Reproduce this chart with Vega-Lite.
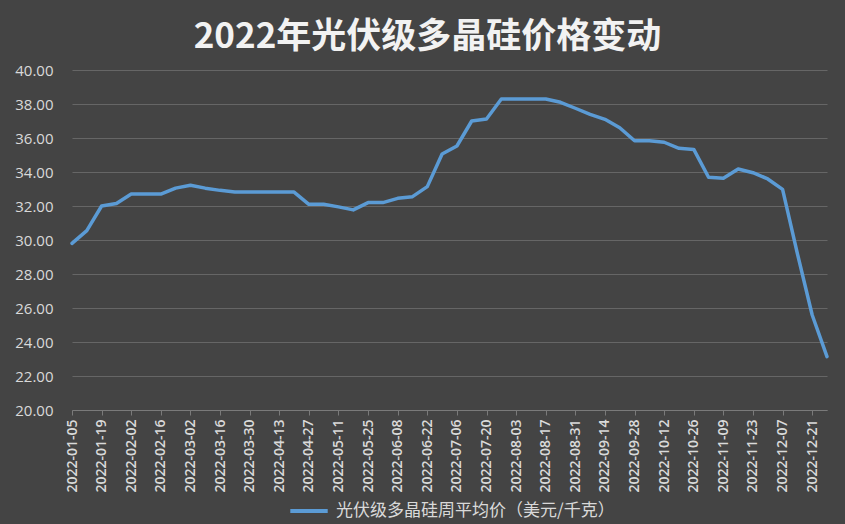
{
  "$schema": "https://vega.github.io/schema/vega-lite/v6.json",
  "width": 755,
  "height": 340,
  "autosize": {"type": "none"},
  "padding": {"left": 72, "top": 70, "right": 18, "bottom": 114},
  "background": "#444444",
  "config": {"view": {"stroke": null}},
  "title": {
    "text": "2022年光伏级多晶硅价格变动",
    "font": "Noto Sans CJK SC",
    "fontSize": 35,
    "fontWeight": "bold",
    "color": "#f2f2f2",
    "anchor": "middle",
    "offset": 8,
    "dx": -22
  },
  "data": {
    "values": [
      {"date": "2022-01-05", "price": 29.8},
      {"date": "2022-01-12", "price": 30.55},
      {"date": "2022-01-19", "price": 32.0},
      {"date": "2022-01-26", "price": 32.15},
      {"date": "2022-02-02", "price": 32.7},
      {"date": "2022-02-09", "price": 32.7},
      {"date": "2022-02-16", "price": 32.7},
      {"date": "2022-02-23", "price": 33.05},
      {"date": "2022-03-02", "price": 33.22},
      {"date": "2022-03-09", "price": 33.05},
      {"date": "2022-03-16", "price": 32.92},
      {"date": "2022-03-23", "price": 32.83},
      {"date": "2022-03-30", "price": 32.82},
      {"date": "2022-04-06", "price": 32.82},
      {"date": "2022-04-13", "price": 32.82},
      {"date": "2022-04-20", "price": 32.82},
      {"date": "2022-04-27", "price": 32.1},
      {"date": "2022-05-04", "price": 32.1},
      {"date": "2022-05-11", "price": 31.95},
      {"date": "2022-05-18", "price": 31.77},
      {"date": "2022-05-25", "price": 32.2},
      {"date": "2022-06-01", "price": 32.2},
      {"date": "2022-06-08", "price": 32.45},
      {"date": "2022-06-15", "price": 32.55},
      {"date": "2022-06-22", "price": 33.14},
      {"date": "2022-06-29", "price": 35.06},
      {"date": "2022-07-06", "price": 35.53},
      {"date": "2022-07-13", "price": 37.0},
      {"date": "2022-07-20", "price": 37.12},
      {"date": "2022-07-27", "price": 38.29},
      {"date": "2022-08-03", "price": 38.29},
      {"date": "2022-08-10", "price": 38.29},
      {"date": "2022-08-17", "price": 38.29},
      {"date": "2022-08-24", "price": 38.1},
      {"date": "2022-08-31", "price": 37.75},
      {"date": "2022-09-07", "price": 37.39},
      {"date": "2022-09-14", "price": 37.1},
      {"date": "2022-09-21", "price": 36.6},
      {"date": "2022-09-28", "price": 35.84},
      {"date": "2022-10-05", "price": 35.84},
      {"date": "2022-10-12", "price": 35.75},
      {"date": "2022-10-19", "price": 35.39},
      {"date": "2022-10-26", "price": 35.33},
      {"date": "2022-11-02", "price": 33.69},
      {"date": "2022-11-09", "price": 33.63},
      {"date": "2022-11-16", "price": 34.18},
      {"date": "2022-11-23", "price": 33.96},
      {"date": "2022-11-30", "price": 33.59},
      {"date": "2022-12-07", "price": 32.98},
      {"date": "2022-12-14", "price": 29.2},
      {"date": "2022-12-21", "price": 25.59},
      {"date": "2022-12-28", "price": 23.14}
    ]
  },
  "mark": {"type": "line", "strokeWidth": 3.5, "strokeJoin": "round", "strokeCap": "round"},
  "encoding": {
    "x": {
      "field": "date",
      "type": "ordinal",
      "sort": null,
      "scale": {"type": "point", "padding": 0},
      "axis": {
        "title": null,
        "values": ["2022-01-05","2022-01-19","2022-02-02","2022-02-16","2022-03-02","2022-03-16","2022-03-30","2022-04-13","2022-04-27","2022-05-11","2022-05-25","2022-06-08","2022-06-22","2022-07-06","2022-07-20","2022-08-03","2022-08-17","2022-08-31","2022-09-14","2022-09-28","2022-10-12","2022-10-26","2022-11-09","2022-11-23","2022-12-07","2022-12-21"],
        "labelAngle": 270,
        "labelAlign": "right",
        "labelBaseline": "middle",
        "labelFont": "Open Sans",
        "labelFontSize": 14,
        "labelFontWeight": 600,
        "labelColor": "#d9d9d9",
        "labelPadding": 4,
        "domainColor": "#7a7a7a",
        "tickColor": "#7a7a7a",
        "tickSize": 5,
        "grid": false
      }
    },
    "y": {
      "field": "price",
      "type": "quantitative",
      "scale": {"domain": [20, 40], "nice": false, "zero": false},
      "axis": {
        "title": null,
        "values": [20, 22, 24, 26, 28, 30, 32, 34, 36, 38, 40],
        "format": ".2f",
        "labelFont": "Open Sans",
        "labelFontSize": 15,
        "labelFontWeight": "normal",
        "labelColor": "#d9d9d9",
        "labelPadding": 19,
        "ticks": false,
        "domain": false,
        "grid": true,
        "gridColor": "#666666",
        "gridWidth": 1
      }
    },
    "color": {
      "datum": "光伏级多晶硅周平均价（美元/千克）",
      "type": "nominal",
      "scale": {"range": ["#5B9BD5"]},
      "legend": {
        "title": null,
        "orient": "none",
        "legendX": 216,
        "legendY": 420,
        "padding": 0,
        "symbolType": "stroke",
        "symbolSize": 1400,
        "symbolStrokeWidth": 4,
        "labelFont": "Noto Sans CJK SC",
        "labelFontSize": 17,
        "labelLimit": 0,
        "labelColor": "#d9d9d9",
        "labelOffset": 6
      }
    }
  }
}
